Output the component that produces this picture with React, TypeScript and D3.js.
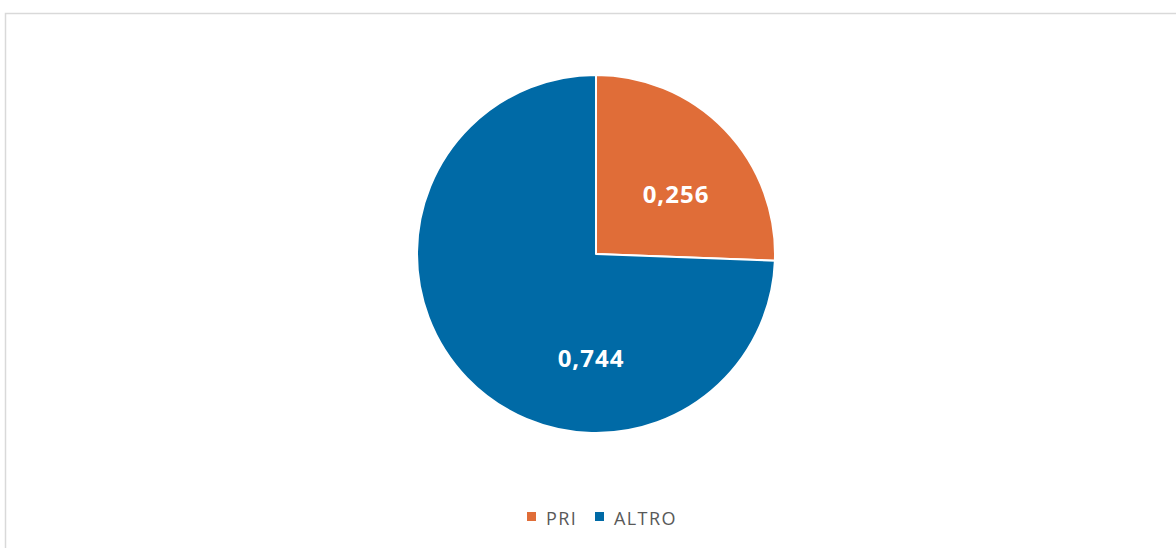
import React, { useEffect, useRef } from 'react';
import * as d3 from 'd3';

// chart data
const categories: string[] = ['PRI', 'ALTRO'];
const values: number[] = [0.256, 0.744];
const valueLabels: string[] = ['0,256', '0,744'];
const colors: string[] = ['#E06D38', '#006AA6'];

const WIDTH = 1176;
const HEIGHT = 548;

const App: React.FC = () => {
    const svgRef = useRef<SVGSVGElement>(null);

    useEffect(() => {
        if (!svgRef.current) return;
        const svg = d3.select(svgRef.current);
        svg.selectAll('*').remove();

        svg.append('rect')
            .attr('width', WIDTH)
            .attr('height', HEIGHT)
            .attr('fill', '#ffffff');

        // chart area border (runs off right/bottom edge)
        svg.append('rect')
            .attr('x', 5.5)
            .attr('y', 13.5)
            .attr('width', WIDTH + 20)
            .attr('height', HEIGHT + 20)
            .attr('fill', 'none')
            .attr('stroke', '#d9d9d9')
            .attr('stroke-width', 1.5);

        const cx = 596;
        const cy = 254;
        const r = 179;

        const pie = d3.pie<number>().sort(null).value(d => d);
        const arcs = pie(values);
        const arc = d3.arc<d3.PieArcDatum<number>>().innerRadius(0).outerRadius(r);

        const g = svg.append('g').attr('transform', `translate(${cx},${cy})`);

        g.selectAll('path.slice')
            .data(arcs)
            .enter()
            .append('path')
            .attr('class', 'slice')
            .attr('d', arc)
            .attr('fill', (_, i) => colors[i])
            .attr('stroke', '#ffffff')
            .attr('stroke-width', 2)
            .attr('stroke-linejoin', 'round');

        // label placement relative to radius (Excel best fit)
        const labelOffsets: [number, number][] = [[0.447, -0.285], [-0.028, 0.631]];

        g.selectAll('text.val')
            .data(arcs)
            .enter()
            .append('text')
            .attr('class', 'val')
            .attr('x', (_, i) => labelOffsets[i][0] * r)
            .attr('y', (_, i) => labelOffsets[i][1] * r)
            .attr('text-anchor', 'middle')
            .attr('fill', '#ffffff')
            .attr('font-family', '"Open Sans", sans-serif')
            .attr('font-weight', 700)
            .attr('font-size', 24)
            .attr('letter-spacing', 1)
            .text((_, i) => valueLabels[i]);

        // legend
        const legendY = 525;
        const legendX = [527, 595];
        const legend = svg.append('g');
        categories.forEach((c, i) => {
            legend.append('rect')
                .attr('x', legendX[i])
                .attr('y', legendY - 13)
                .attr('width', 9)
                .attr('height', 9)
                .attr('fill', colors[i]);
            legend.append('text')
                .attr('x', legendX[i] + 19)
                .attr('y', legendY)
                .attr('fill', '#595959')
                .attr('font-family', '"Open Sans", sans-serif')
                .attr('font-size', 18)
                .attr('letter-spacing', 1.4)
                .text(c);
        });
    }, []);

    return (
        <svg
            ref={svgRef}
            width={WIDTH}
            height={HEIGHT}
            style={{ position: 'absolute', left: 0, top: 0, display: 'block' }}
        />
    );
};

export default App;
